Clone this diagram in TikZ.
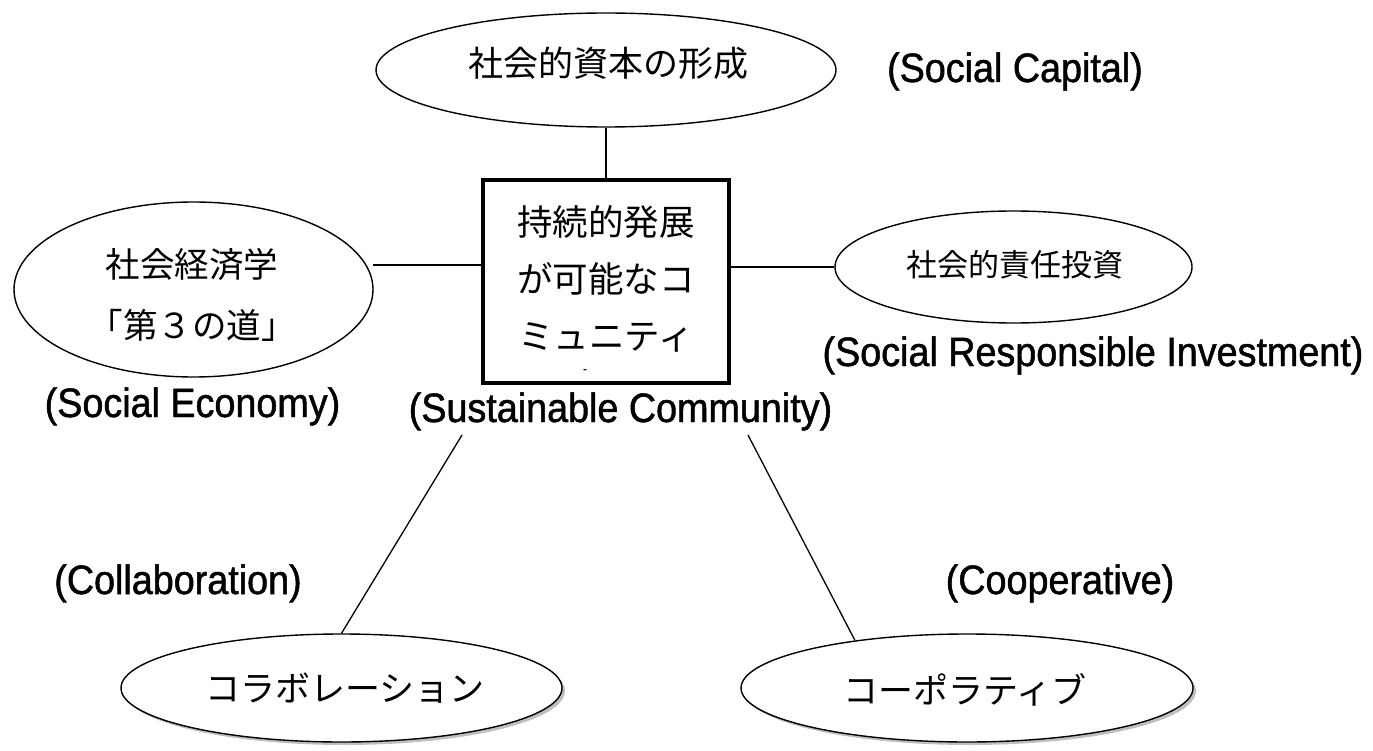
\documentclass[tikz,border=0pt]{standalone}
\usepackage{fontspec}
\newfontfamily\jpfont{Noto Sans CJK JP}
\newfontfamily\enfont[FakeStretch=0.92,FakeBold=1.2]{Liberation Sans}
\usetikzlibrary{shapes.geometric,shadows}
\begin{document}
\begin{tikzpicture}[x=1pt,y=-1pt,
  oval/.style={draw, ellipse, line width=1.4pt, inner sep=0pt, fill=white},
  shadowed/.style={drop shadow={shadow xshift=3pt,shadow yshift=-3pt,fill=black!50}},
  jp/.style={font=\jpfont\fontsize{35}{35}\selectfont, inner sep=0pt},
  en/.style={font=\enfont\fontsize{41}{41}\selectfont, inner sep=0pt, anchor=base},
  conn/.style={line width=1.3pt}]
\useasboundingbox (0,0) rectangle (1373,751);

% shapes
\node[oval, minimum width=460pt, minimum height=114pt] (cap) at (606,70) {};
\node[jp] (capt) at (608,63) {社会的資本の形成};

\node[draw, line width=3.3pt, minimum width=246pt, minimum height=203pt, inner sep=0pt] (box) at (606,281.5) {};
\node[jp, align=center, font=\jpfont\fontsize{35.5}{57}\selectfont] (boxt) at (606,279) {持続的発展\\が可能なコ\\ミュニティ};
\node[font=\enfont\fontsize{12}{12}\selectfont, inner sep=0pt] (dot) at (585,371) {-};

\node[oval, minimum width=359pt, minimum height=175pt] (econ) at (193.5,289.5) {};
\node[jp, align=center, font=\jpfont\fontsize{34.5}{61}\selectfont] (econt) at (192,294.5) {社会経済学\\「第３の道」};

\node[oval, minimum width=357pt, minimum height=112pt] (sri) at (1013.5,267) {};
\node[jp, font=\jpfont\fontsize{31}{31}\selectfont] (srit) at (1015,265) {社会的責任投資};

\node[oval, shadowed, minimum width=441pt, minimum height=108pt] (collab) at (341.5,688) {};
\node[jp] (collabt) at (345,688) {コラボレーション};

\node[oval, shadowed, minimum width=452pt, minimum height=108pt] (coop) at (967,688) {};
\node[jp] (coopt) at (965,690) {コーポラティブ};

% english labels
\node[en] (lcap) at (1015,82) {(Social Capital)};
\node[en] (lecon) at (192.5,417) {(Social Economy)};
\node[en] (lsus) at (620.5,422) {(Sustainable Community)};
\node[en] (lsri) at (1093,366) {(Social Responsible Investment)};
\node[en] (lcol) at (178,594) {(Collaboration)};
\node[en] (lcoop) at (1060,594) {(Cooperative)};

% connectors
\draw[conn] (cap.south) -- (box.north);
\coordinate (ej) at (373,265);
\draw[conn] (ej) -- (box.west |- ej);
\draw[conn] (box.east |- sri.west) -- (sri.west);
\coordinate (sl) at (462,435);
\draw[conn] (sl) -- (collab.north);
\coordinate (sr) at (748,435);
\draw[conn] (sr) -- (coop.157);
\end{tikzpicture}
\end{document}
